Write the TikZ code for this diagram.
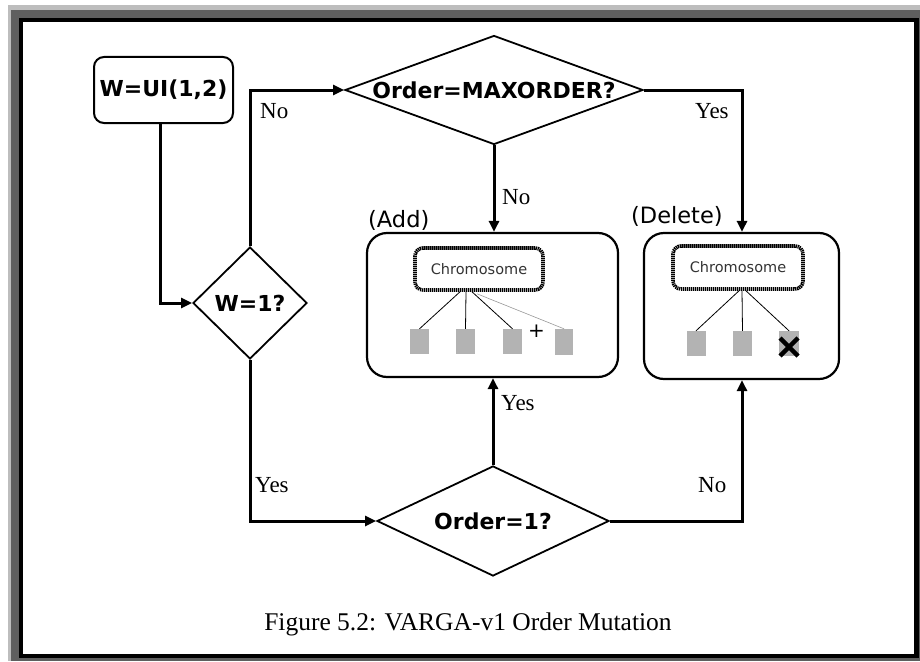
\documentclass[tikz,border=0pt]{standalone}
\usepackage{fontspec}
\setmainfont{Liberation Serif}
\newfontfamily\diagsans{DejaVu Sans}
\usetikzlibrary{arrows.meta,shapes.geometric,calc}

\definecolor{framelight}{HTML}{BDBDBD}
\definecolor{framedark}{HTML}{5F5F5F}
\definecolor{gene}{HTML}{B3B3B3}
\definecolor{chromtext}{HTML}{333333}

\begin{document}
\begin{tikzpicture}[x=1pt,y=-1pt,
  flow/.style={line width=3pt, -{Triangle[length=11pt,width=10pt]}},
  decision/.style={shape=diamond, draw, line width=1.8pt, inner sep=0pt,
    font=\diagsans\bfseries\fontsize{22}{24}\selectfont},
  roundbox/.style={draw, line width=2pt, rounded corners=10pt, inner sep=0pt,
    font=\diagsans\bfseries\fontsize{22}{24}\selectfont},
  groupbox/.style={draw, line width=2.2pt, rounded corners=20pt, inner sep=0pt},
  chrom/.style={draw, line width=3.6pt, dash pattern=on 1.3pt off 0.7pt,
    rounded corners=8pt, inner sep=0pt, text=chromtext,
    font=\diagsans\fontsize{14.5}{16}\selectfont},
  genebox/.style={fill=gene, minimum width=19pt, minimum height=25pt, inner sep=0pt},
  link/.style={line width=0.8pt},
  answer/.style={font=\fontsize{23}{25}\selectfont, inner sep=0pt, anchor=base west},
  tag/.style={font=\diagsans\fontsize{22.5}{25}\selectfont, inner sep=0pt, anchor=base west}
]
\useasboundingbox (0,0) rectangle (920,661);

% shadowed page frame
\fill[white] (0,0) rectangle (920,661);
\fill[framelight] (8,5) rectangle (920,661);
\fill[framedark] (11,10) rectangle (920,661);
\fill[black] (19,18) rectangle (919,658);
\fill[white] (23,22) rectangle (914,654);

% flowchart nodes
\node[roundbox, minimum width=139pt, minimum height=66pt] (wui) at (163.5,90) {W=UI(1,2)};
\node[decision, minimum width=114pt, minimum height=112pt] (w1) at (250,303) {\makebox[0pt]{W=1?}};
\node[decision, minimum width=298pt, minimum height=109pt] (maxo) at (494,90) {\makebox[0pt]{Order=MAXORDER?}};
\node[decision, minimum width=232pt, minimum height=110pt] (o1) at (493,521) {\makebox[0pt]{Order=1?}};

\node[groupbox, minimum width=251pt, minimum height=144pt] (add) at (492.5,305) {};
\node[groupbox, minimum width=195pt, minimum height=146pt] (del) at (741.5,306) {};

% contents of the (Add) box
\node[chrom, minimum width=128pt, minimum height=42pt] (ca) at (479,269) {Chromosome};
\node[genebox] (a1) at (419.5,341.5) {};
\node[genebox] (a2) at (465.5,341.5) {};
\node[genebox] (a3) at (512.5,341.5) {};
\node[genebox, minimum width=18pt, minimum height=26pt] (a4) at (564,342) {};
\node[font=\diagsans\fontsize{20}{22}\selectfont, inner sep=0pt] (plus) at (536.5,331) {+};
\draw[link] ($(ca.south)+(-19,0)$) -- (a1.north);
\draw[link] ($(ca.south)+(-13,0)$) -- (a2.north);
\draw[link] ($(ca.south)+(-7,0)$) -- (a3.north);
\draw[line width=0.6pt, black!40] ($(ca.south)+(-2,2)$) -- (a4.north);

% contents of the (Delete) box
\node[chrom, minimum width=130pt, minimum height=43pt] (cd) at (738,267.5) {Chromosome};
\node[genebox] (d1) at (696,343.5) {};
\node[genebox] (d2) at (742.5,343.5) {};
\node[genebox, minimum width=20pt] (d3) at (789,343.5) {};
\draw[link] ($(cd.south)+(1,0)$) -- (d1.north);
\draw[link] ($(cd.south)+(4,0)$) -- (d2.north);
\draw[link] ($(cd.south)+(8,0)$) -- (d3.north);
\draw[line width=4.5pt] (780,338) -- (798,356) (798,338) -- (780,356);

% connectors
\draw[flow] (wui.south -| 160,0) |- (w1.west);
\draw[flow] (w1.north) |- (maxo.west);
\draw[flow] (maxo.south) -- (maxo.south |- add.north);
\draw[flow] (maxo.east) -| (742,0 |- del.north);
\draw[flow] (w1.south) |- (o1.west);
\draw[flow] (o1.north) -- (o1.north |- add.south);
\draw[flow] (o1.east) -| (742,0 |- del.south);

% branch labels
\node[answer] (noA) at (260,118) {No};
\node[answer] (yesA) at (695,118) {Yes};
\node[answer] (noB) at (502,204) {No};
\node[answer] (yesB) at (501,410) {Yes};
\node[answer] (yesC) at (255,492) {Yes};
\node[answer] (noC) at (698,492) {No};

\node[tag] (addtag) at (368,227) {(Add)};
\node[tag] (deltag) at (631,223) {(Delete)};

% caption
\node[font=\fontsize{25.5}{28}\selectfont, inner sep=0pt, anchor=base] (cap) at (468,630)
  {Figure 5.2: VARGA-v1 Order Mutation};
\end{tikzpicture}
\end{document}
